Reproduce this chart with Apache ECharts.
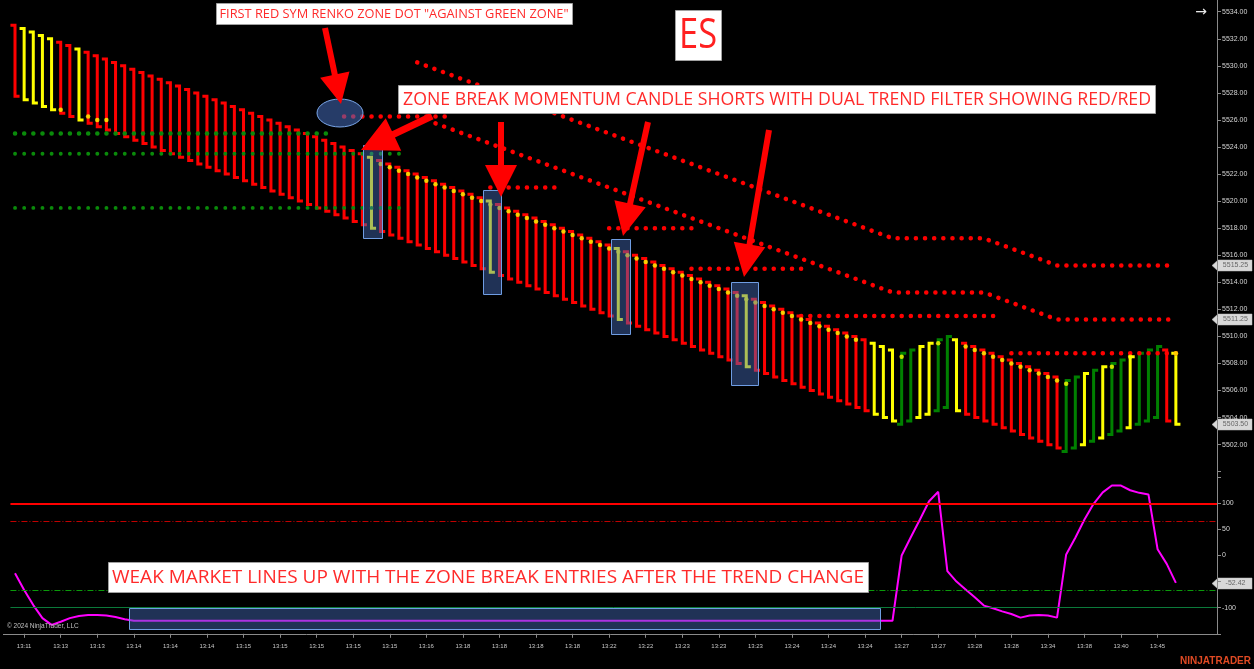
<!DOCTYPE html>
<html><head><meta charset="utf-8">
<script src="https://cdn.jsdelivr.net/npm/echarts@6/dist/echarts.min.js"></script>
<style>html,body{margin:0;padding:0;background:#000;overflow:hidden}#c{width:1254px;height:669px}</style>
</head><body><div id="c"></div>
<script>
// ---------- DATA ----------
const tickLabels = ['13:11','13:13','13:13','13:14','13:14','13:14','13:15','13:15','13:15','13:15','13:15','13:16',
  '13:18','13:18','13:18','13:18','13:22','13:22','13:23','13:23','13:23','13:24','13:24','13:24',
  '13:27','13:27','13:28','13:28','13:34','13:38','13:40','13:45'];

const barOpen = [
 5533.00,5532.75,5532.50,5532.25,5532.00,5531.75,5531.50,5531.25,5531.00,5530.75,
 5530.50,5530.25,5530.00,5529.75,5529.50,5529.25,5529.00,5528.75,5528.50,5528.25,
 5528.00,5527.75,5527.50,5527.25,5527.00,5526.75,5526.50,5526.25,5526.00,5525.75,
 5525.50,5525.25,5525.00,5524.75,5524.50,5524.25,5524.00,5523.75,5523.50,5523.25,
 5523.00,5522.75,5522.50,5522.25,5522.00,5521.75,5521.50,5521.25,5521.00,5520.75,
 5520.50,5520.25,5520.00,5519.75,5519.50,5519.25,5519.00,5518.75,5518.50,5518.25,
 5518.00,5517.75,5517.50,5517.25,5517.00,5516.75,5516.50,5516.25,5516.00,5515.75,
 5515.50,5515.25,5515.00,5514.75,5514.50,5514.25,5514.00,5513.75,5513.50,5513.25,
 5513.00,5512.75,5512.50,5512.25,5512.00,5511.75,5511.50,5511.25,5511.00,5510.75,
 5510.50,5510.25,5510.00,5509.75,5509.50,5509.25,5509.00,5503.50,5503.75,5504.00,
 5504.25,5504.50,5504.75,5509.75,5509.50,5509.25,5509.00,5508.75,5508.50,5508.25,
 5508.00,5507.75,5507.50,5507.25,5507.00,5501.50,5501.75,5502.00,5502.25,5502.50,
 5502.75,5503.00,5503.25,5503.50,5503.75,5504.00,5509.00,5508.75];

const barClose = [
 5527.75,5527.50,5527.25,5527.00,5526.75,5526.50,5526.25,5526.00,5525.75,5525.50,
 5525.25,5525.00,5524.75,5524.50,5524.25,5524.00,5523.75,5523.50,5523.25,5523.00,
 5522.75,5522.50,5522.25,5522.00,5521.75,5521.50,5521.25,5521.00,5520.75,5520.50,
 5520.25,5520.00,5519.75,5519.50,5519.25,5519.00,5518.75,5518.50,5518.25,5518.00,
 5517.75,5517.50,5517.25,5517.00,5516.75,5516.50,5516.25,5516.00,5515.75,5515.50,
 5515.25,5515.00,5514.75,5514.50,5514.25,5514.00,5513.75,5513.50,5513.25,5513.00,
 5512.75,5512.50,5512.25,5512.00,5511.75,5511.50,5511.25,5511.00,5510.75,5510.50,
 5510.25,5510.00,5509.75,5509.50,5509.25,5509.00,5508.75,5508.50,5508.25,5508.00,
 5507.75,5507.50,5507.25,5507.00,5506.75,5506.50,5506.25,5506.00,5505.75,5505.50,
 5505.25,5505.00,5504.75,5504.50,5504.25,5504.00,5503.75,5508.75,5509.00,5509.25,
 5509.50,5509.75,5510.00,5504.50,5504.25,5504.00,5503.75,5503.50,5503.25,5503.00,
 5502.75,5502.50,5502.25,5502.00,5501.75,5506.75,5507.00,5507.25,5507.50,5507.75,
 5508.00,5508.25,5508.50,5508.75,5509.00,5509.25,5503.75,5503.50];

// R = red, Y = yellow, G = green  (one letter per bar)
const barColorCodes = ('R' + 'YYYY' + 'RR' + 'Y' +
  'RRRRRRRRRRRRRRRRRRRRRRRRRRRRRRR' + 'Y' +
  'RRRRRRRRRRRR' + 'Y' +
  'RRRRRRRRRRRRR' + 'Y' +
  'RRRRRRRRRRRRR' + 'Y' +
  'RRRRRRRRRRRRR' +
  'YYY' + 'GG' + 'YY' + 'GG' + 'Y' +
  'RRRRRRRRRRR' +
  'GG' + 'Y' + 'G' + 'Y' + 'GG' + 'Y' + 'GGG' + 'R' + 'Y').split('');

const oscValues = [
 -34,-66,-95,-120,-133,-127,-120,-116,-114,-114,
 -115,-118,-122,-125,-125,-125,-125,-125,-125,-125,
 -125,-125,-125,-125,-125,-125,-125,-125,-125,-125,
 -125,-125,-125,-125,-125,-125,-125,-125,-125,-125,
 -125,-125,-125,-125,-125,-125,-125,-125,-125,-125,
 -125,-125,-125,-125,-125,-125,-125,-125,-125,-125,
 -125,-125,-125,-125,-125,-125,-125,-125,-125,-125,
 -125,-125,-125,-125,-125,-125,-125,-125,-125,-125,
 -125,-125,-125,-125,-125,-125,-125,-125,-125,-125,
 -125,-125,-125,-125,-125,-125,-125,0,35,69,
 104,122,-30,-50,-65,-80,-96,-101,-107,-112,
 -119,-115,-114,-115,-119,2,34,69,99,121,
 134,134,125,120,117,12,-16,-52.42];

// yellow stop dots: [bar index, price]
const stopDots = [
 [5,5526.75],[8,5526.25],[9,5526.00],[10,5526.00],
 [40,5522.75],[41,5522.50],[42,5522.25],[43,5522.00],[44,5521.75],[45,5521.50],[46,5521.25],[47,5521.00],[48,5520.75],[49,5520.50],
 [50,5520.25],[51,5520.00],[52,5519.75],[53,5519.50],[54,5519.25],[55,5519.00],[56,5518.75],[57,5518.50],[58,5518.25],[59,5518.00],
 [60,5517.75],[61,5517.50],[62,5517.25],[63,5517.00],[64,5516.75],[65,5516.50],[66,5516.25],[67,5516.00],[68,5515.75],[69,5515.50],
 [70,5515.25],[71,5515.00],[72,5514.75],[73,5514.50],[74,5514.25],[75,5514.00],[76,5513.75],[77,5513.50],[78,5513.25],[79,5513.00],
 [80,5512.75],[81,5512.50],[82,5512.25],[83,5512.00],[84,5511.75],[85,5511.50],[86,5511.25],[87,5511.00],[88,5510.75],[89,5510.50],
 [90,5510.25],[91,5510.00],[92,5509.75],
 [97,5508.50],[101,5509.50],
 [104,5509.25],[105,5509.00],[106,5508.75],[107,5508.50],[108,5508.25],[109,5508.00],[110,5507.75],[111,5507.50],[112,5507.25],
 [113,5507.00],[114,5506.75],[115,5506.50],[120,5507.75],[122,5508.50],[127,5508.75]];

// red zone dot lines: vertices [bar index, price]
const zoneUpper = [[44,5530.25],[96,5517.25],[106,5517.25],[114,5515.25],[127,5515.25]];
const zoneLower = [[46,5525.75],[96,5513.25],[106,5513.25],[114,5511.25],[127,5511.25]];
// horizontal red zone rows: [from bar, to bar, price]
const zoneRows = [[36,48,5526.25],[52,60,5521.00],[65,74,5518.00],[74,86,5515.00],[86,108,5511.50],[109,127,5508.75]];
// green zone rows: [from bar, to bar, price]
const greenRows = [[0,35,5525.00],[0,43,5523.50],[0,43,5519.50]];

const priceTags = [5515.25, 5511.25, 5503.50];
const oscTag = -52.42;
const oscLevels = [100, 66, -66, -100];

// ---------- BUILD ----------
const NB = barOpen.length;          // 128 bars
const NCAT = NB + 4;                // empty space at right
const categories = [];
for (let i = 0; i < NCAT; i++) {
  categories.push(i < NB ? tickLabels[Math.max(0, Math.floor((i - 1) / 4))] : '');
}
const BAR_COLOR = {R:'#ff0000', Y:'#ffff00', G:'#008000'};
const showTick = (idx) => idx % 4 === 1 && idx <= 125;

const band = (1217 - 15) / (NCAT - 0.5);
const gridLeft = 15 - band / 2;
const gridWidth = band * NCAT;

const dotStyle = (color, w) => ({color: color, width: w, type: [0.1, band - 0.1], cap: 'round'});

const series = [];
series.push({
  type: 'custom', xAxisIndex: 0, yAxisIndex: 0, z: 2, silent: true,
  data: barOpen.map((o, i) => [i, o, barClose[i]]),
  encode: {x: 0, y: [1, 2]},
  renderItem: function (params, api) {
    const i = api.value(0);
    const o = api.coord([i, api.value(1)]);
    const c = api.coord([i, api.value(2)]);
    const half = api.size([1, 0])[0] / 2;
    return {
      type: 'polyline',
      shape: {points: [[o[0] - half, o[1]], [o[0], o[1]], [c[0], c[1]], [c[0] + half, c[1]]]},
      style: {stroke: BAR_COLOR[barColorCodes[i]], lineWidth: 3, fill: null, lineJoin: 'miter'}
    };
  }
});
[zoneUpper, zoneLower].forEach(z => series.push({
  type: 'line', xAxisIndex: 0, yAxisIndex: 0, z: 4, silent: true, symbol: 'none',
  data: z, lineStyle: dotStyle('#ff0000', 4.5)
}));
zoneRows.forEach(r => series.push({
  type: 'line', xAxisIndex: 0, yAxisIndex: 0, z: 4, silent: true, symbol: 'none',
  data: [[r[0], r[2]], [r[1], r[2]]], lineStyle: dotStyle('#ff0000', 4.5)
}));
greenRows.forEach((r, k) => series.push({
  type: 'line', xAxisIndex: 0, yAxisIndex: 0, z: 4, silent: true, symbol: 'none',
  data: [[r[0], r[2]], [r[1], r[2]]], lineStyle: dotStyle('#0a8a0a', k === 0 ? 4.5 : 3.8)
}));
series.push({
  type: 'scatter', xAxisIndex: 0, yAxisIndex: 0, z: 5, silent: true,
  data: stopDots, symbol: 'circle', symbolSize: 4.5, itemStyle: {color: '#ffff00'}
});
series.push({
  type: 'line', xAxisIndex: 1, yAxisIndex: 1, z: 4, silent: true, symbol: 'none',
  data: oscValues, lineStyle: {color: '#ff00ff', width: 2},
  markLine: {
    silent: true, symbol: 'none', label: {show: false},
    data: [
      {yAxis: oscLevels[0], lineStyle: {color: '#ff0000', width: 2, type: 'solid'}},
      {yAxis: oscLevels[1], lineStyle: {color: '#c00000', width: 1, type: [6, 2, 1, 2]}},
      {yAxis: oscLevels[2], lineStyle: {color: '#0a9a0a', width: 1, type: [6, 2, 1, 2]}},
      {yAxis: oscLevels[3], lineStyle: {color: '#0b7a3a', width: 1, type: 'solid'}}
    ]
  }
});

const option = {
  backgroundColor: '#000000',
  animation: false,
  grid: [
    {left: gridLeft, top: 11.7, width: gridWidth, height: 460},
    {left: gridLeft, top: 477.2, width: gridWidth, height: 156.6}
  ],
  xAxis: [
    {type: 'category', gridIndex: 0, data: categories, show: false},
    {type: 'category', gridIndex: 1, data: categories,
     axisLine: {show: false, onZero: false},
     axisTick: {show: true, interval: showTick, alignWithLabel: true, length: 4, lineStyle: {color: '#8a8a8a'}},
     axisLabel: {interval: showTick, color: '#c8c8c8', fontSize: 6, margin: 10, fontFamily: 'Liberation Sans'}}
  ],
  yAxis: [
    {type: 'value', gridIndex: 0, position: 'right', min: 5500, max: 5534, interval: 2,
     splitLine: {show: false}, axisLine: {show: false},
     axisTick: {show: true, length: 4, lineStyle: {color: '#8a8a8a'}},
     axisLabel: {color: '#d4d4d4', fontSize: 7, margin: 5, fontFamily: 'Liberation Sans',
                 formatter: v => v === 5500 ? '' : v.toFixed(2)}},
    {type: 'value', gridIndex: 1, position: 'right', min: -150, max: 150, interval: 50,
     splitLine: {show: false}, axisLine: {show: false},
     axisTick: {show: true, length: 4, lineStyle: {color: '#8a8a8a'}},
     axisLabel: {color: '#d4d4d4', fontSize: 7, margin: 5, fontFamily: 'Liberation Sans',
                 formatter: v => (v === 150 || v === -150 || v === -50) ? '' : String(v)}}
  ],
  series: series
};

const chart = echarts.init(document.getElementById('c'), null, {renderer: 'canvas'});
chart.setOption(option);

// ---------- ANNOTATIONS ----------
const mctx = document.createElement('canvas').getContext('2d');
function textW(t, size, fam, weight) { mctx.font = (weight || 'normal') + ' ' + size + 'px ' + fam; return mctx.measureText(t).width; }
const AFONT = "'Open Sans'";
function fitText(t, x, cy, size, target, color, align) {
  const w = textW(t, size, AFONT);
  return {type: 'text', x: x, y: cy, scaleX: target / w, z: 30,
    style: {text: t, fontSize: size, fontFamily: AFONT, fill: color, textVerticalAlign: 'middle', textAlign: align || 'left'}};
}
function arrow(x1, y1, x2, y2, sw, hl, hw) {
  const dx = x2 - x1, dy = y2 - y1, L = Math.hypot(dx, dy), ux = dx / L, uy = dy / L, px = -uy, py = ux;
  const bx = x2 - ux * hl, by = y2 - uy * hl;
  return {type: 'polygon', z: 25, shape: {points: [
    [x1 + px * sw / 2, y1 + py * sw / 2], [bx + px * sw / 2, by + py * sw / 2], [bx + px * hw / 2, by + py * hw / 2],
    [x2, y2], [bx - px * hw / 2, by - py * hw / 2], [bx - px * sw / 2, by - py * sw / 2], [x1 - px * sw / 2, y1 - py * sw / 2]]},
    style: {fill: '#ff0000'}};
}
function box(x, y, w, h) {
  return {type: 'rect', z: 20, shape: {x: x + 0.5, y: y + 0.5, width: w, height: h},
    style: {fill: 'rgba(70,110,190,0.45)', stroke: '#6f9de3', lineWidth: 1}};
}
function whiteBox(x, y, w, h) {
  return {type: 'rect', z: 29, shape: {x: x + 0.5, y: y + 0.5, width: w, height: h},
    style: {fill: '#ffffff', stroke: '#a0a0a0', lineWidth: 1}};
}
function tag(y, text) {
  return {type: 'group', x: 1212, y: Math.round(y) + 0.5, z: 40, children: [
    {type: 'polygon', shape: {points: [[0, 0], [6, -5.5], [40, -5.5], [40, 5.5], [6, 5.5]]},
     style: {fill: '#d8d8d8', stroke: '#bcbcbc', lineWidth: 0.5}},
    {type: 'text', x: 23.5, y: 0, style: {text: text, fontSize: 7, fontFamily: 'Liberation Sans', fill: '#666666',
     textAlign: 'center', textVerticalAlign: 'middle'}}
  ]};
}

const g = [];
// frame
g.push({type: 'line', z: 15, shape: {x1: 1217.5, y1: 0, x2: 1217.5, y2: 634.5}, style: {stroke: '#8a8a8a', lineWidth: 1}});
g.push({type: 'line', z: 15, shape: {x1: 3, y1: 634.5, x2: 1217.5, y2: 634.5}, style: {stroke: '#8a8a8a', lineWidth: 1}});
// highlight boxes
g.push(box(363, 145, 19, 93));
g.push(box(483, 190, 18, 104));
g.push(box(611, 239, 19, 95));
g.push(box(731, 282, 27, 103));
g.push(box(129, 608, 751, 21));
g.push({type: 'ellipse', z: 20, shape: {cx: 340, cy: 113, rx: 23, ry: 14},
  style: {fill: 'rgba(70,110,190,0.55)', stroke: '#7aa6e8', lineWidth: 1}});
// arrows
g.push(arrow(325, 28, 341, 104, 6, 30, 30));
g.push(arrow(432, 116, 361, 150, 7, 36, 36));
g.push(arrow(501, 122, 501, 197, 6, 32, 32));
g.push(arrow(648, 122, 623, 236, 6, 33, 32));
g.push(arrow(769, 130, 744, 277, 6, 33, 32));
// text boxes
g.push(whiteBox(216, 3, 356, 21));
g.push(fitText('FIRST RED SYM RENKO ZONE DOT "AGAINST GREEN ZONE"', 219.5, 14, 12.5, 349, '#ff2a2a'));
g.push(whiteBox(675, 10, 46, 50));
g.push(fitText('ES', 698, 36, 42, 38, '#ff2020', 'center'));
g.push(whiteBox(398, 85, 757, 28));
g.push(fitText('ZONE BREAK MOMENTUM CANDLE SHORTS WITH DUAL TREND FILTER SHOWING RED/RED', 403, 99.5, 18.5, 748, '#ff2a2a'));
g.push(whiteBox(108, 562, 760, 30));
g.push(fitText('WEAK MARKET LINES UP WITH THE ZONE BREAK ENTRIES AFTER THE TREND CHANGE', 112, 577.5, 18.5, 752, '#ff2a2a'));
// misc text
g.push({type: 'text', x: 1201, y: 12, z: 30, style: {text: '→', fontSize: 14, fontFamily: 'DejaVu Sans', fill: '#e8e8e8', textAlign: 'center', textVerticalAlign: 'middle'}});
g.push({type: 'text', x: 7, y: 626, z: 30, style: {text: '© 2024 NinjaTrader, LLC', fontSize: 6.5, fontFamily: 'Liberation Sans', fill: '#c0c0c0', textVerticalAlign: 'middle'}});
g.push({type: 'text', x: 1251, y: 661, z: 30, style: {text: 'NINJATRADER', fontSize: 10, fontWeight: 'bold', fontFamily: 'Liberation Sans', fill: '#e04a24', textAlign: 'right', textVerticalAlign: 'middle'}});
// price tags from data values
priceTags.forEach(p => g.push(tag(chart.convertToPixel({yAxisIndex: 0}, p), p.toFixed(2))));
g.push(tag(chart.convertToPixel({yAxisIndex: 1}, oscTag), oscTag.toFixed(2)));

chart.setOption({graphic: g});
</script>
</body></html>
